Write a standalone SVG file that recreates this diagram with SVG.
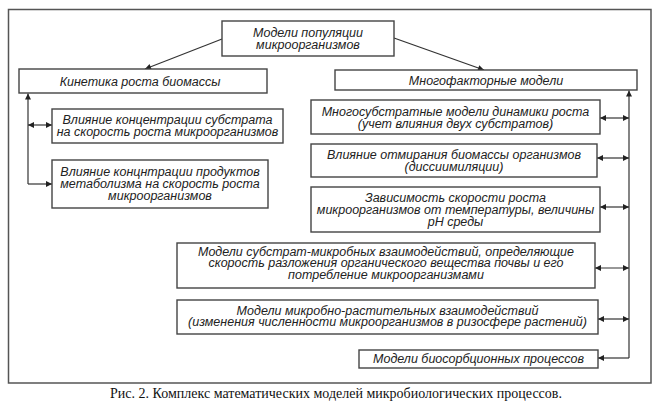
<svg xmlns="http://www.w3.org/2000/svg" width="670" height="418" viewBox="0 0 670 418">
<defs>
<marker id="ah" viewBox="0 0 10 10" refX="10" refY="5" markerWidth="7" markerHeight="6" markerUnits="userSpaceOnUse" orient="auto-start-reverse">
<path d="M0,0 L10,5 L0,10 z" fill="#222"/>
</marker>
<style>
.box{fill:#fff;stroke:#444;stroke-width:1.4}
.t{font-family:"Liberation Sans",Arial,sans-serif;font-style:italic;font-size:12.5px;fill:#222;text-anchor:middle}
.ln{fill:none;stroke:#333;stroke-width:1.2}
.cap{font-family:"Liberation Serif","Times New Roman",serif;font-size:14px;fill:#111;text-anchor:middle}
</style>
</defs>
<rect x="0" y="0" width="670" height="418" fill="#fff"/>
<rect x="8.5" y="9.5" width="642.5" height="373.5" fill="none" stroke="#555" stroke-width="1.5"/>
<g id="connectors">
<path class="ln" d="M222,39 L145,69" marker-end="url(#ah)"/>
<path class="ln" d="M394,38 L484,70" marker-end="url(#ah)"/>
<path class="ln" d="M28,184 L28,93.5" marker-end="url(#ah)"/>
<path class="ln" d="M28,125 L52,125" marker-start="url(#ah)" marker-end="url(#ah)"/>
<path class="ln" d="M28,184 L52,184" marker-end="url(#ah)"/>
<path class="ln" d="M629,358 L629,90.5" marker-end="url(#ah)"/>
<path class="ln" d="M600,118 L629,118" marker-start="url(#ah)" marker-end="url(#ah)"/>
<path class="ln" d="M597,158 L629,158" marker-start="url(#ah)" marker-end="url(#ah)"/>
<path class="ln" d="M600,207 L629,207" marker-start="url(#ah)" marker-end="url(#ah)"/>
<path class="ln" d="M595,268 L629,268" marker-start="url(#ah)" marker-end="url(#ah)"/>
<path class="ln" d="M598,319 L629,319" marker-start="url(#ah)" marker-end="url(#ah)"/>
<path class="ln" d="M629,358 L598,358" marker-end="url(#ah)"/>
</g>
<g id="root">
<rect class="box" x="222" y="21" width="172" height="35"/>
<text class="t" x="308" y="36.5">Модели популяции<tspan x="308" dy="12">микроорганизмов</tspan></text>
</g>
<g id="kinetics">
<rect class="box" x="19" y="69" width="248" height="24"/>
<text class="t" x="140" y="85.5">Кинетика роста биомассы</text>
</g>
<g id="multifactor">
<rect class="box" x="335" y="70" width="302" height="20"/>
<text class="t" x="486" y="84.5">Многофакторные модели</text>
</g>
<g id="substrate">
<rect class="box" x="52" y="109" width="231" height="34"/>
<text class="t" x="167.5" y="124">Влияние концентрации субстрата<tspan x="167.5" dy="12">на скорость роста микроорганизмов</tspan></text>
</g>
<g id="products">
<rect class="box" x="52" y="160" width="216" height="48"/>
<text class="t" x="160" y="176">Влияние концнтрации продуктов<tspan x="160" dy="12">метаболизма на скорость роста</tspan><tspan x="160" dy="12">микроорганизмов</tspan></text>
</g>
<g id="multisubstrate">
<rect class="box" x="311" y="100" width="289" height="34"/>
<text class="t" x="455.5" y="116">Многосубстратные модели динамики роста<tspan x="455.5" dy="12">(учет влияния двух субстратов)</tspan></text>
</g>
<g id="dying">
<rect class="box" x="311" y="144" width="286" height="33"/>
<text class="t" x="454" y="158.5">Влияние отмирания биомассы организмов<tspan x="454" dy="12">(диссиимиляции)</tspan></text>
</g>
<g id="temperature">
<rect class="box" x="311" y="187" width="289" height="45"/>
<text class="t" x="455.5" y="201.5">Зависимость скорости роста<tspan x="455.5" dy="12">микроорганизмов от температуры, величины</tspan><tspan x="455.5" dy="12">pH среды</tspan></text>
</g>
<g id="substrate-microbial">
<rect class="box" x="177" y="243" width="418" height="45"/>
<text class="t" x="386" y="255.5">Модели субстрат-микробных взаимодействий, определяющие<tspan x="386" dy="11.5">скорость разложения органического вещества почвы и его</tspan><tspan x="386" dy="11.5">потребление микроорганизмами</tspan></text>
</g>
<g id="plant-microbial">
<rect class="box" x="177" y="300" width="421" height="34"/>
<text class="t" x="387.5" y="314.5">Модели микробно-растительных взаимодействий<tspan x="387.5" dy="11.5">(изменения численности микроорганизмов в ризосфере растений)</tspan></text>
</g>
<g id="biosorption">
<rect class="box" x="359" y="350" width="239" height="18"/>
<text class="t" x="478.5" y="363">Модели биосорбционных процессов</text>
</g>
<text class="cap" x="336" y="398">Рис. 2. Комплекс математических моделей микробиологических процессов.</text>
</svg>
